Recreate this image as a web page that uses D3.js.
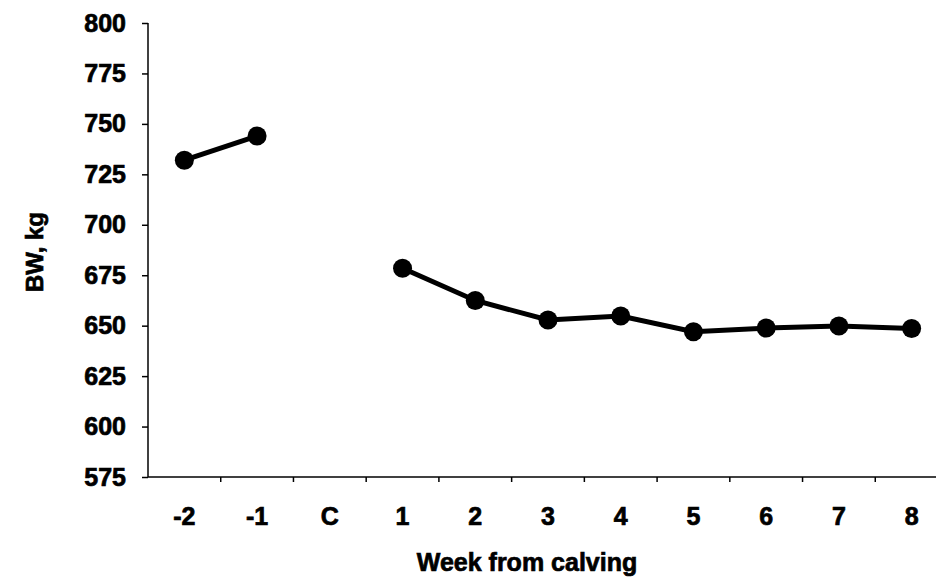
<!DOCTYPE html>
<meta charset="utf-8">
<script src="https://d3js.org/d3.v7.min.js"></script>
<style>
  body { margin: 0; background: #fff; }
  text { font-family: "Liberation Sans", Arial, sans-serif; font-weight: bold; fill: #000; stroke: #000; stroke-width: 0.7px; }
</style>
<div id="chart"></div>
<script>
// data
var weeks = ["-2", "-1", "C", "1", "2", "3", "4", "5", "6", "7", "8"];
var bwBefore = [ {week: "-2", bw: 732}, {week: "-1", bw: 744} ];
var bwAfter = [
  {week: "1", bw: 678.5}, {week: "2", bw: 662.5}, {week: "3", bw: 652.8},
  {week: "4", bw: 654.8}, {week: "5", bw: 647}, {week: "6", bw: 648.8},
  {week: "7", bw: 649.8}, {week: "8", bw: 648.6}
];
var yTicks = [575, 600, 625, 650, 675, 700, 725, 750, 775, 800];

var width = 936, height = 580;
var svg = d3.select("#chart").append("svg")
  .attr("width", width)
  .attr("height", height);

var x = d3.scaleBand().domain(weeks).range([148, 948]);
var y = d3.scaleLinear().domain([575, 800]).range([477, 23]);

// y axis
var yAxis = svg.append("g")
  .attr("transform", "translate(148,0)")
  .call(d3.axisLeft(y).tickValues(yTicks).tickSize(6).tickPadding(16));
yAxis.select(".domain").attr("stroke-width", 1.5).attr("d", "M0," + y(800) + "V" + y(575));
yAxis.selectAll(".tick line").attr("stroke-width", 1.5);
yAxis.selectAll("text").style("font-size", "25px");

// x axis: labels centered in bands, ticks on band boundaries
var xAxis = svg.append("g")
  .attr("transform", "translate(0,477)")
  .call(d3.axisBottom(x).tickSize(0).tickPadding(30));
xAxis.select(".domain").attr("stroke-width", 1.5).attr("d", "M148,0H936");
xAxis.selectAll("text").style("font-size", "25px");
xAxis.selectAll(".bound")
  .data(weeks.slice(1))
  .enter().append("line")
  .attr("class", "bound")
  .attr("x1", function(d) { return x(d); })
  .attr("x2", function(d) { return x(d); })
  .attr("y1", 0).attr("y2", 5)
  .attr("stroke", "#000").attr("stroke-width", 1.5);

// axis titles
svg.append("text")
  .attr("x", 527).attr("y", 571)
  .attr("text-anchor", "middle")
  .style("font-size", "25px")
  .text("Week from calving");

svg.append("text")
  .attr("transform", "translate(43,252) rotate(-90)")
  .attr("text-anchor", "middle")
  .style("font-size", "24px")
  .text("BW, kg");

// lines and markers
var line = d3.line()
  .x(function(d) { return x(d.week) + x.bandwidth() / 2; })
  .y(function(d) { return y(d.bw); });

[bwBefore, bwAfter].forEach(function(series) {
  svg.append("path")
    .datum(series)
    .attr("fill", "none")
    .attr("stroke", "#000")
    .attr("stroke-width", 5)
    .attr("d", line);

  svg.selectAll(null)
    .data(series)
    .enter().append("circle")
    .attr("cx", function(d) { return x(d.week) + x.bandwidth() / 2; })
    .attr("cy", function(d) { return y(d.bw); })
    .attr("r", 9.5)
    .attr("fill", "#000");
});
</script>
